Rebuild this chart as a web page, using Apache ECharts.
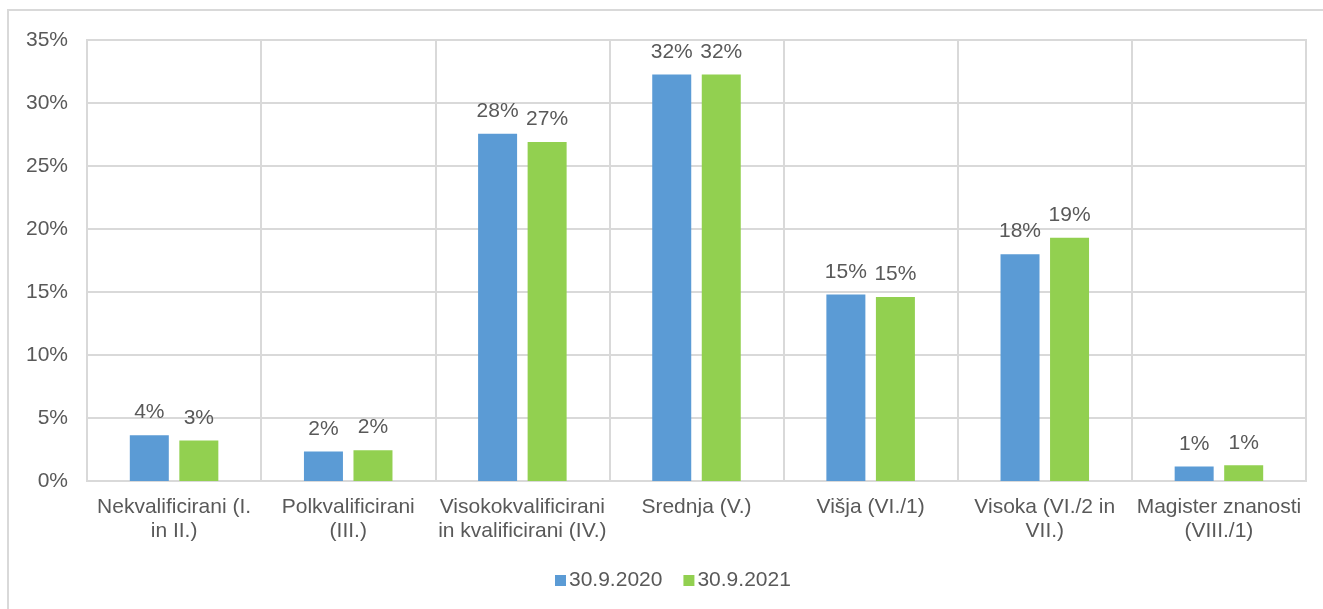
<!DOCTYPE html>
<html>
<head>
<meta charset="utf-8">
<script src="https://cdn.jsdelivr.net/npm/echarts@6/dist/echarts.min.js"></script>
<style>
html,body{margin:0;padding:0;background:#fff;}
#chart{width:1323px;height:609px;}
</style>
</head>
<body>
<div id="chart"></div>
<script>
var categories = [
  "Nekvalificirani (I.\nin II.)",
  "Polkvalificirani\n(III.)",
  "Visokokvalificirani\nin kvalificirani (IV.)",
  "Srednja (V.)",
  "Višja (VI./1)",
  "Visoka (VI./2 in\nVII.)",
  "Magister znanosti\n(VIII./1)"
];
var series2020 = [3.64, 2.35, 27.55, 32.27, 14.8, 18.0, 1.15];
var series2021 = [3.22, 2.45, 26.9, 32.27, 14.6, 19.3, 1.25];
var seriesNames = ["30.9.2020", "30.9.2021"];
var yTicks = { min: 0, max: 35, interval: 5 };

var FONT = "'Liberation Sans', Arial, sans-serif";
var TXT = '#595959';
var GRIDC = '#d9d9d9';

var chart = echarts.init(document.getElementById('chart'), null, {renderer:'canvas'});
function labelCfg() {
  return {
    show: true, position: 'top', distance: 12,
    color: TXT, fontFamily: FONT, fontSize: 21, lineHeight: 21,
    formatter: function (p) { return Math.round(p.value) + '%'; }
  };
}
chart.setOption({
  animation: false,
  backgroundColor: '#fff',
  textStyle: { fontFamily: FONT },
  graphic: [{
    type: 'rect', silent: true, z: -10,
    shape: { x: 8, y: 10, width: 1340, height: 700 },
    style: { fill: 'none', stroke: GRIDC, lineWidth: 2 }
  }],
  grid: { left: 87, right: 17, top: 40, bottom: 128, containLabel: false,
          show: true, borderColor: GRIDC, borderWidth: 2 },
  legend: {
    data: seriesNames, left: 550, top: 565,
    itemWidth: 11, itemHeight: 11, itemGap: 21,
    icon: 'rect',
    textStyle: { color: TXT, fontFamily: FONT, fontSize: 21, padding: [0, 0, 0, -2] }
  },
  xAxis: {
    type: 'category', data: categories,
    axisLine: { show: true, lineStyle: { color: GRIDC, width: 2 } },
    axisTick: { show: false },
    splitLine: { show: true, interval: 0, lineStyle: { color: GRIDC, width: 2 } },
    axisLabel: { interval: 0, margin: 14, color: TXT, fontFamily: FONT, fontSize: 21, lineHeight: 24, align: 'center' }
  },
  yAxis: {
    type: 'value', min: yTicks.min, max: yTicks.max, interval: yTicks.interval,
    axisLine: { show: false }, axisTick: { show: false },
    splitLine: { show: true, lineStyle: { color: GRIDC, width: 2 } },
    axisLabel: { margin: 19, color: TXT, fontFamily: FONT, fontSize: 21, formatter: '{value}%' }
  },
  series: [
    { name: seriesNames[0], type: 'bar', data: series2020, barWidth: 39, barGap: '27%',
      itemStyle: { color: '#5B9BD5' }, label: labelCfg() },
    { name: seriesNames[1], type: 'bar', data: series2021, barWidth: 39,
      itemStyle: { color: '#92D050' }, label: labelCfg() }
  ]
});
</script>
</body>
</html>
